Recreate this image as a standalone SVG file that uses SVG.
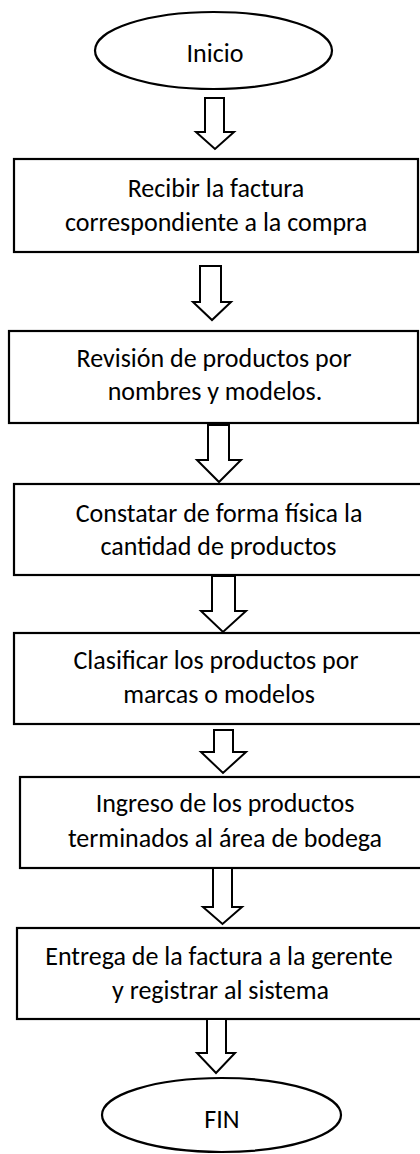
<svg xmlns="http://www.w3.org/2000/svg" width="420" height="1154" viewBox="0 0 420 1154">
<style>
.shape{fill:#fff;stroke:#000;stroke-width:2.2}
.arrow{fill:#fff;stroke:#000;stroke-width:2;stroke-linejoin:miter}
text{font-family:Carlito,Lato,"Liberation Sans",sans-serif;font-size:26px;fill:#000;text-anchor:middle}
</style>
<rect width="420" height="1154" fill="#fff"/>
<g id="inicio"><ellipse class="shape" cx="213.5" cy="50.5" rx="118.5" ry="38.5"/><text x="215" y="62">Inicio</text></g>
<g id="paso1"><rect class="shape" x="14" y="159" width="404" height="93"/><text x="216" y="197">Recibir la factura</text><text x="216" y="231">correspondiente a la compra</text></g>
<g id="paso2"><rect class="shape" x="9" y="331" width="409" height="92"/><text x="214" y="367">Revisión de productos por</text><text x="215" y="400">nombres y modelos.</text></g>
<g id="paso3"><rect class="shape" x="14" y="484" width="420" height="91"/><text x="219" y="522">Constatar de forma física la</text><text x="218.5" y="555">cantidad de productos</text></g>
<g id="paso4"><rect class="shape" x="14" y="633" width="420" height="91"/><text x="216" y="669">Clasificar los productos por</text><text x="219" y="703">marcas o modelos</text></g>
<g id="paso5"><rect class="shape" x="20" y="777" width="420" height="91"/><text x="225" y="812">Ingreso de los productos</text><text x="225" y="847">terminados al área de bodega</text></g>
<g id="paso6"><rect class="shape" x="17" y="928" width="420" height="91"/><text x="219" y="965">Entrega de la factura a la gerente</text><text x="220.5" y="999">y registrar al sistema</text></g>
<g id="fin"><ellipse class="shape" cx="221.5" cy="1115" rx="119.5" ry="37"/><text x="222" y="1128">FIN</text></g>
<g id="connectors">
<polygon class="arrow" points="205,98 224,98 224,132 234,132 215,149 196,132 205,132"/>
<polygon class="arrow" points="200,266 221,266 221,302 231,302 212,320 193,302 200,302"/>
<polygon class="arrow" points="208,425 229,425 229,460 241,460 219,482 197,460 208,460"/>
<polygon class="arrow" points="212,576 235,576 235,611 246,611 223,632 201,611 212,611"/>
<polygon class="arrow" points="214,730 233,730 233,752 246,752 223,773 201,752 214,752"/>
<polygon class="arrow" points="213,868 232,868 232,907 242,907 222.5,924 203,907 213,907"/>
<polygon class="arrow" points="207,1019 226,1019 226,1053 235,1053 216,1073 197,1053 207,1053"/>
</g>
</svg>
